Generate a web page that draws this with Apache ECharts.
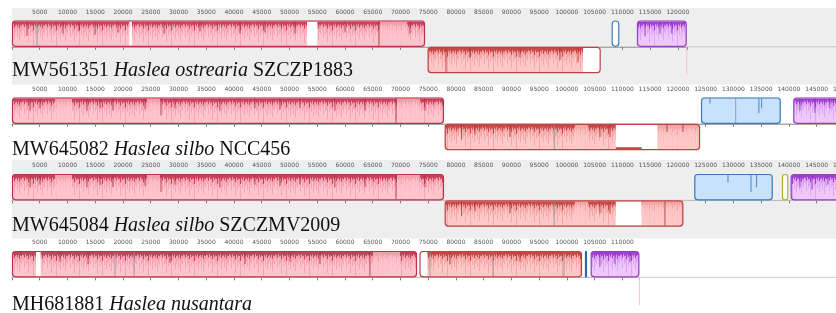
<!DOCTYPE html>
<html>
<head>
<meta charset="utf-8">
<script src="https://cdn.jsdelivr.net/npm/echarts@6/dist/echarts.min.js"></script>
<style>
  html, body { margin: 0; padding: 0; background: #fff; }
  #chart { width: 836px; height: 313px; }
</style>
</head>
<body>
<div id="chart"></div>
<script>
// one track per genome
const accessions = ['MW561351', 'MW645082', 'MW645084', 'MH681881']
const species = ['Haslea ostrearia', 'Haslea silbo', 'Haslea silbo', 'Haslea nusantara']
const strains = ['SZCZP1883', 'NCC456', 'SZCZMV2009', '']
const genomeLengths = [121600, 152000, 153000, 113050]

// LCB blocks: [genome, start, end, strand, colour]
const lcbBlocks = [
  [0, 0, 74430, 1, 'red'], [0, 74910, 106090, -1, 'salmon'], [0, 108070, 109440, 1, 'blueOpen'], [0, 112630, 121590, 1, 'purple'],
  [1, 0, 77850, 1, 'red'], [1, 77980, 123990, -1, 'salmon'], [1, 124170, 138530, 1, 'blue'], [1, 140800, 152000, 1, 'purple'],
  [2, 0, 77850, 1, 'red'], [2, 77980, 120980, -1, 'salmon'], [2, 122960, 137090, 1, 'blue'], [2, 138760, 139900, 1, 'olive'], [2, 140330, 153000, 1, 'purple'],
  [3, 0, 72990, 1, 'red'], [3, 73440, 102720, 1, 'salmon'], [3, 103260, 103620, 1, 'blueSolid'], [3, 104290, 113050, 1, 'purple']
]

// stretches inside a block with weak similarity (no dark band): [genome, start, end, strand]
const faintRanges = [
  [0, 66300, 71200, 1],
  [1, 7750, 10810, 1], [1, 24330, 26670, 1], [1, 69380, 73520, 1], [1, 101450, 103800, -1], [1, 116300, 123990, -1],
  [2, 7750, 10810, 1], [2, 24330, 26670, 1], [2, 69380, 73520, 1], [2, 101450, 103800, -1], [2, 113440, 120980, -1],
  [3, 65050, 69920, 1]
]

// unaligned stretches inside a block: [genome, start, end, strand]
const gapRanges = [
  [0, 21140, 21620, 1], [0, 53160, 55020, 1], [0, 102900, 106090, -1],
  [1, 108800, 116300, -1],
  [2, 108800, 113440, -1],
  [3, 4325, 5170, 1], [3, 73440, 74840, 1]
]

// low similarity floor inside a gap: [genome, start, end, strand, level]
const lowProfile = [[1, 108800, 113480, -1, 0.07]]

// similarity dips: [genome, position, strand, depth, tone]
const dips = [
  [0, 2700, 1, 0.6, 'dark'], [0, 4500, 1, 1, 'grey'], [0, 9190, 1, 0.5, 'dark'], [0, 12070, 1, 0.4, 'dark'], [0, 14960, 1, 0.55, 'dark'],
  [0, 19100, 1, 0.45, 'dark'], [0, 27390, 1, 0.5, 'dark'], [0, 33880, 1, 0.4, 'dark'], [0, 41090, 1, 0.5, 'dark'], [0, 45590, 1, 0.45, 'dark'],
  [0, 51000, 1, 0.5, 'dark'], [0, 60010, 1, 0.45, 'dark'], [0, 66140, 1, 1, 'dark'], [0, 71720, 1, 0.5, 'dark'],
  [0, 78210, -1, 1, 'dark'], [0, 82530, -1, 0.4, 'dark'], [0, 91540, -1, 0.4, 'dark'], [0, 98750, -1, 0.5, 'dark'], [0, 101990, -1, 0.6, 'dark'],
  [0, 114070, 1, 0.6, 'dark'], [0, 116770, 1, 0.5, 'dark'], [0, 118930, 1, 0.5, 'dark'],
  [1, 3240, 1, 0.5, 'dark'], [1, 5050, 1, 0.4, 'dark'], [1, 13520, 1, 0.5, 'dark'], [1, 15860, 1, 0.4, 'dark'], [1, 18200, 1, 0.5, 'dark'],
  [1, 23970, 1, 0.45, 'dark'], [1, 26850, 1, 0.7, 'dark'], [1, 29370, 1, 0.4, 'dark'], [1, 37480, 1, 0.5, 'dark'], [1, 43790, 1, 0.4, 'dark'],
  [1, 48290, 1, 0.45, 'dark'], [1, 51900, 1, 0.4, 'dark'], [1, 58200, 1, 0.5, 'dark'], [1, 63610, 1, 0.5, 'dark'], [1, 69200, 1, 1, 'dark'], [1, 74420, 1, 0.5, 'dark'],
  [1, 81030, -1, 0.6, 'dark'], [1, 83430, -1, 0.4, 'dark'], [1, 89740, -1, 0.5, 'dark'], [1, 97720, -1, 1, 'grey'], [1, 105960, -1, 0.5, 'dark'], [1, 107760, -1, 0.5, 'dark'],
  [1, 118030, -1, 0.3, 'dark'], [1, 120910, -1, 0.3, 'dark'],
  [1, 125780, 1, 0.2, 'dark'], [1, 130420, 1, 1, 'grey'], [1, 134600, 1, 0.6, 'dark'], [1, 135090, 1, 0.4, 'dark'],
  [1, 142000, 1, 0.5, 'dark'], [1, 144700, 1, 0.6, 'dark'], [1, 147400, 1, 0.4, 'dark'],
  [2, 3240, 1, 0.5, 'dark'], [2, 5050, 1, 0.4, 'dark'], [2, 13520, 1, 0.5, 'dark'], [2, 15860, 1, 0.4, 'dark'], [2, 18200, 1, 0.5, 'dark'],
  [2, 23970, 1, 0.45, 'dark'], [2, 26850, 1, 0.7, 'dark'], [2, 29370, 1, 0.4, 'dark'], [2, 37480, 1, 0.5, 'dark'], [2, 43790, 1, 0.4, 'dark'],
  [2, 48290, 1, 0.45, 'dark'], [2, 51900, 1, 0.4, 'dark'], [2, 58200, 1, 0.5, 'dark'], [2, 63610, 1, 0.5, 'dark'], [2, 69200, 1, 1, 'dark'], [2, 74420, 1, 0.5, 'dark'],
  [2, 81030, -1, 0.6, 'dark'], [2, 83430, -1, 0.4, 'dark'], [2, 89740, -1, 0.5, 'dark'], [2, 97720, -1, 1, 'grey'], [2, 105960, -1, 0.5, 'dark'], [2, 107760, -1, 0.5, 'dark'],
  [2, 117670, -1, 1, 'dark'],
  [2, 129030, 1, 0.3, 'dark'], [2, 133170, 1, 0.7, 'dark'], [2, 134190, 1, 0.5, 'dark'],
  [2, 142000, 1, 0.5, 'dark'], [2, 144160, 1, 0.6, 'dark'], [2, 147040, 1, 0.4, 'dark'],
  [3, 8650, 1, 0.4, 'dark'], [3, 13700, 1, 0.5, 'dark'], [3, 18560, 1, 1, 'grey'], [3, 21990, 1, 1, 'grey'], [3, 28470, 1, 0.45, 'dark'],
  [3, 41990, 1, 0.5, 'dark'], [3, 50100, 1, 0.4, 'dark'], [3, 55500, 1, 0.5, 'dark'], [3, 64510, 1, 1, 'dark'],
  [3, 75320, 1, 1, 'grey'], [3, 78930, 1, 0.5, 'dark'], [3, 86680, 1, 1, 'grey'], [3, 91540, 1, 0.4, 'dark'], [3, 99470, 1, 1, 'grey'],
  [3, 105960, 1, 0.6, 'dark'], [3, 108660, 1, 0.5, 'dark'], [3, 111360, 1, 0.4, 'dark']
]

const palette = {
  red: { fill: '#ffc4cc', band: '#c8405a', mid: '#eb8a9c', dark: '#a82840', line: '#b8344c' },
  salmon: { fill: '#ffc8c8', band: '#c84848', mid: '#ea8c8c', dark: '#a83030', line: '#b84444' },
  blue: { fill: '#c8e2fc', dark: '#2a6cb8', line: '#3a78b8' },
  purple: { fill: '#efc8fb', band: '#a040d0', mid: '#cf88ec', dark: '#8a2cc0', line: '#9440b8' },
  blueOpen: { fill: '#ffffff', line: '#3a78b8' },
  olive: { fill: '#ffffff', line: '#a8b030' },
  blueSolid: { fill: '#2a6aaa', line: '#2a6aaa' }
}

// stripe lengths of the profile texture (fraction of block height), purely decorative
const textureStripes = [0.22, 0.38, 0.15, 0.3, 0.26, 0.5, 0.18, 0.34, 0.24, 0.28, 0.62, 0.2, 0.32, 0.16, 0.42, 0.27, 0.21, 0.36, 0.19, 0.46, 0.25, 0.3, 0.17]

const pxPerBp = 0.005549
const trackTops = [8, 85, 161.5, 238.5]
const labelMid = [70.8, 149.3, 226.2, 304.5]
const blockPx = 26.3

let chart = echarts.init(document.getElementById('chart'), null, { renderer: 'canvas' })

let textures = {}
function textureFor (key) {
  if (textures[key]) return textures[key]
  const c = palette[key]
  const cv = document.createElement('canvas')
  cv.width = textureStripes.length
  cv.height = Math.round(blockPx)
  const ctx = cv.getContext('2d')
  textureStripes.forEach((d, i) => {
    const h = d * cv.height
    ctx.globalAlpha = 0.55
    ctx.fillStyle = c.mid
    ctx.fillRect(i, 0, 1, Math.min(cv.height, h * 1.6))
    ctx.globalAlpha = 1
    ctx.fillStyle = c.band
    ctx.fillRect(i, 0, 1, h * 0.55)
  })
  ctx.fillStyle = c.band
  ctx.fillRect(0, 0, cv.width, 2)
  textures[key] = cv
  return cv
}

function blockBox (api, start, end, strand) {
  const p0 = api.coord([start, strand > 0 ? 1 : 0])
  const p1 = api.coord([end, strand > 0 ? 0 : -1])
  return { x: p0[0], y: p0[1], width: p1[0] - p0[0], height: p1[1] - p0[1] }
}

function colourAt (g, pos) {
  const b = lcbBlocks.find(v => v[0] === g && pos >= v[1] && pos <= v[2])
  return palette[b ? b[4] : 'red']
}

let grids = []
let xAxes = []
let yAxes = []
let series = []
let graphics = [
  { type: 'rect', z: -10, shape: { x: 12, y: 8, width: 824, height: 76.5 }, style: { fill: '#eeeeee' } },
  { type: 'rect', z: -10, shape: { x: 12, y: 160, width: 824, height: 78.5 }, style: { fill: '#eeeeee' } }
]

for (let g = 0; g < accessions.length; g++) {
  grids.push({ left: 12, top: trackTops[g], width: genomeLengths[g] * pxPerBp, height: 65.1, outerBoundsMode: 'none' })
  xAxes.push({
    gridIndex: g,
    type: 'value',
    min: 0,
    max: genomeLengths[g],
    interval: 5000,
    position: 'top',
    axisLine: { lineStyle: { color: '#999', width: 1 } },
    axisTick: { inside: true, length: 3, lineStyle: { color: '#777' } },
    axisLabel: {
      inside: true,
      fontSize: 6,
      color: '#555',
      margin: 1,
      fontFamily: 'DejaVu Sans',
      formatter: v => (v > 0 && v % 5000 === 0) ? String(v) : ''
    },
    splitLine: { show: false }
  })
  yAxes.push({ gridIndex: g, type: 'value', min: -1, max: 1.475, show: false })

  const base = { type: 'custom', coordinateSystem: 'cartesian2d', xAxisIndex: g, yAxisIndex: g, clip: false, silent: true, animation: false }
  const blocks = lcbBlocks.filter(v => v[0] === g)
  const faint = faintRanges.filter(v => v[0] === g)
  const gaps = gapRanges.filter(v => v[0] === g)
  const lows = lowProfile.filter(v => v[0] === g)
  const marks = dips.filter(v => v[0] === g)

  // centre line and end-of-genome marker
  series.push({
    ...base, z: 1, data: [[0, 0]],
    renderItem (params, api) {
      const c = api.coord([0, 0])
      const e = api.coord([genomeLengths[g], 0])
      return {
        type: 'group',
        children: [
          { type: 'line', shape: { x1: c[0], y1: c[1], x2: api.getWidth(), y2: c[1] }, style: { stroke: '#c8c8c8', lineWidth: 1 } },
          { type: 'line', shape: { x1: e[0], y1: c[1], x2: e[0], y2: c[1] + 28 }, style: { stroke: '#f2c4c8', lineWidth: 1 } }
        ]
      }
    }
  })

  // block bodies with conserved-profile texture
  series.push({
    ...base, z: 2, data: blocks.map(v => [v[1], v[2]]),
    renderItem (params, api) {
      const b = blocks[params.dataIndex]
      const c = palette[b[4]]
      const r = blockBox(api, b[1], b[2], b[3])
      const children = [{ type: 'rect', shape: { ...r, r: 3 }, style: { fill: c.fill } }]
      if (c.band) {
        children.push({
          type: 'rect',
          shape: { x: r.x + 1, y: r.y + 1, width: r.width - 2, height: r.height - 2 },
          style: { fill: { image: textureFor(b[4]), repeat: 'repeat', x: 0, y: r.y + 1 } }
        })
      }
      return { type: 'group', children }
    }
  })

  // weak stretches, texture only faintly visible
  series.push({
    ...base, z: 3, data: faint.map(v => [v[1], v[2]]),
    renderItem (params, api) {
      const f = faint[params.dataIndex]
      const r = blockBox(api, f[1], f[2], f[3])
      return { type: 'rect', shape: { x: r.x, y: r.y + 1, width: r.width, height: r.height - 2 }, style: { fill: colourAt(g, f[1]).fill, opacity: 0.72 } }
    }
  })

  // unaligned stretches
  series.push({
    ...base, z: 4, data: gaps.map(v => [v[1], v[2]]),
    renderItem (params, api) {
      const f = gaps[params.dataIndex]
      const r = blockBox(api, f[1], f[2], f[3])
      return { type: 'rect', shape: { x: r.x, y: r.y + 1, width: r.width, height: r.height - 2 }, style: { fill: '#ffffff' } }
    }
  })

  series.push({
    ...base, z: 5, data: lows.map(v => [v[1], v[2]]),
    renderItem (params, api) {
      const f = lows[params.dataIndex]
      const r = blockBox(api, f[1], f[2], f[3])
      const h = r.height * f[4]
      return { type: 'rect', shape: { x: r.x, y: r.y + r.height - h - 1, width: r.width, height: h }, style: { fill: colourAt(g, f[1]).band } }
    }
  })

  // similarity dips
  series.push({
    ...base, z: 6, data: marks.map(v => [v[1], v[3]]),
    renderItem (params, api) {
      const d = marks[params.dataIndex]
      const r = blockBox(api, d[1], d[1], d[2])
      const c = colourAt(g, d[1])
      const stroke = d[4] === 'grey' ? '#8c8c8c' : c.dark
      return { type: 'line', shape: { x1: r.x, y1: r.y + 1, x2: r.x, y2: r.y + 1 + (r.height - 2) * d[3] }, style: { stroke, lineWidth: 1, opacity: 0.8 } }
    }
  })

  // block outlines
  series.push({
    ...base, z: 7, data: blocks.map(v => [v[1], v[2]]),
    renderItem (params, api) {
      const b = blocks[params.dataIndex]
      const c = palette[b[4]]
      const r = blockBox(api, b[1], b[2], b[3])
      return { type: 'rect', shape: { x: r.x + 0.5, y: r.y + 0.5, width: r.width - 1, height: r.height - 1, r: 3 }, style: { fill: null, stroke: c.line, lineWidth: 1.2 } }
    }
  })

  let text = '{n|' + accessions[g] + ' }{i|' + species[g] + '}'
  if (strains[g]) text += '{n| ' + strains[g] + '}'
  graphics.push({
    type: 'text',
    z: 100,
    x: 12,
    y: labelMid[g],
    style: {
      text,
      fill: '#111',
      verticalAlign: 'middle',
      rich: {
        n: { fontFamily: 'Liberation Serif', fontSize: 20, fill: '#111' },
        i: { fontFamily: 'Liberation Serif', fontSize: 20, fontStyle: 'italic', fill: '#111' }
      }
    }
  })
}

chart.setOption({
  animation: false,
  grid: grids,
  xAxis: xAxes,
  yAxis: yAxes,
  series,
  graphic: graphics
})
</script>
</body>
</html>
